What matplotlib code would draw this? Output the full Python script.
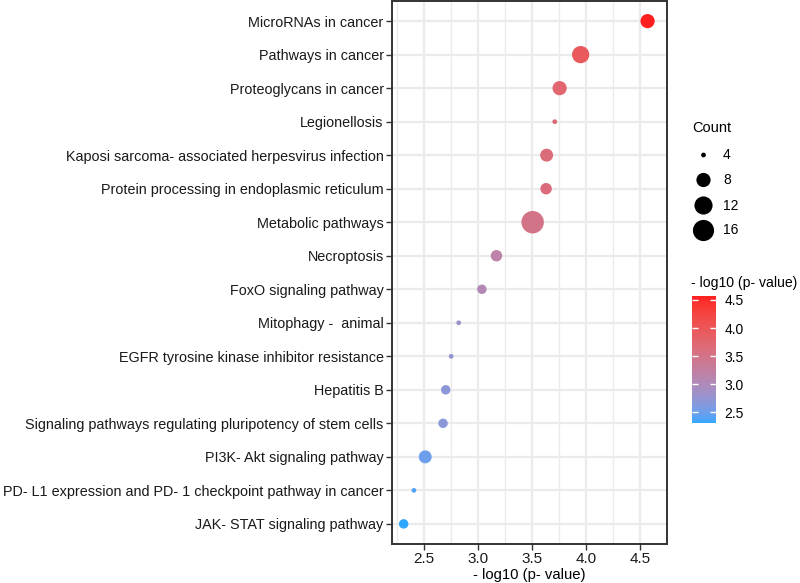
import numpy as np
import matplotlib
matplotlib.use("Agg")
import matplotlib.pyplot as plt
from matplotlib.colors import ListedColormap, Normalize, to_rgb

plt.rcParams['font.family'] = ['Liberation Sans', 'DejaVu Sans']

# ===== Datos =====
pathways = [
    "MicroRNAs in cancer",
    "Pathways in cancer",
    "Proteoglycans in cancer",
    "Legionellosis",
    "Kaposi sarcoma- associated herpesvirus infection",
    "Protein processing in endoplasmic reticulum",
    "Metabolic pathways",
    "Necroptosis",
    "FoxO signaling pathway",
    "Mitophagy -  animal",
    "EGFR tyrosine kinase inhibitor resistance",
    "Hepatitis B",
    "Signaling pathways regulating pluripotency of stem cells",
    "PI3K- Akt signaling pathway",
    "PD- L1 expression and PD- 1 checkpoint pathway in cancer",
    "JAK- STAT signaling pathway",
]
neglog_p = [4.57, 3.95, 3.755, 3.71, 3.635, 3.63, 3.505, 3.17,
            3.035, 2.82, 2.75, 2.70, 2.675, 2.51, 2.405, 2.31]
counts = [8, 11, 8, 4, 7, 6, 18, 6, 5, 4, 4, 5, 5, 7, 4, 5]

size_breaks = [4, 8, 12, 16]
x_ticks = [2.5, 3.0, 3.5, 4.0, 4.5]
cbar_ticks = [2.5, 3.0, 3.5, 4.0, 4.5]

low_col = "#2EA6FF"
high_col = "#FF1F1F"

# ===== Escala de tamaño tipo ggplot (area) =====
cmin, cmax = min(counts), max(counts)


def marker_area(c):
    c = np.asarray(c, dtype=float)
    size = 1 + 5 * np.sqrt((c - cmin) / (cmax - cmin))
    d_px = 3.55 * (size + 0.33)
    return (d_px * 0.72) ** 2


# ===== Degradado en espacio Lab (como ggplot) =====
def srgb_to_lab(rgb):
    rgb = np.asarray(rgb, dtype=float)
    lin = np.where(rgb <= 0.04045, rgb / 12.92, ((rgb + 0.055) / 1.055) ** 2.4)
    M = np.array([[0.4124, 0.3576, 0.1805],
                  [0.2126, 0.7152, 0.0722],
                  [0.0193, 0.1192, 0.9505]])
    xyz = M @ lin / np.array([0.95047, 1.0, 1.08883])
    f = np.where(xyz > 0.008856, np.cbrt(xyz), 7.787 * xyz + 16 / 116)
    return np.array([116 * f[1] - 16, 500 * (f[0] - f[1]), 200 * (f[1] - f[2])])


def lab_to_srgb(lab):
    L, a, b = lab
    fy = (L + 16) / 116
    fx = fy + a / 500
    fz = fy - b / 200
    f = np.array([fx, fy, fz])
    xyz = np.where(f ** 3 > 0.008856, f ** 3, (f - 16 / 116) / 7.787)
    xyz = xyz * np.array([0.95047, 1.0, 1.08883])
    Minv = np.array([[3.2406, -1.5372, -0.4986],
                     [-0.9689, 1.8758, 0.0415],
                     [0.0557, -0.2040, 1.0570]])
    lin = Minv @ xyz
    lin = np.clip(lin, 0, 1)
    rgb = np.where(lin <= 0.0031308, 12.92 * lin, 1.055 * lin ** (1 / 2.4) - 0.055)
    return np.clip(rgb, 0, 1)


lab_lo = srgb_to_lab(to_rgb(low_col))
lab_hi = srgb_to_lab(to_rgb(high_col))
cols = [lab_to_srgb(lab_lo + t * (lab_hi - lab_lo)) for t in np.linspace(0, 1, 256)]
cmap = ListedColormap(cols)
norm = Normalize(vmin=min(neglog_p), vmax=max(neglog_p))

# ===== Figura =====
fig = plt.figure(figsize=(8.0, 5.83), dpi=100)
ax = fig.add_axes([392 / 800, 1 - 544 / 583, 275 / 800, 543 / 583])

ypos = np.arange(len(pathways))[::-1]
sc = ax.scatter(neglog_p, ypos, s=marker_area(counts), c=neglog_p,
                cmap=cmap, norm=norm, linewidths=0, zorder=3)

ax.set_xlim(2.202, 4.68)
ax.set_ylim(-0.6, len(pathways) - 1 + 0.6)
ax.set_yticks(ypos)
ax.set_yticklabels(pathways, fontsize=10.4, color='#1a1a1a')
ax.set_xticks(x_ticks)
ax.set_xticklabels([f"{v:.1f}" for v in x_ticks], fontsize=11, color='#1a1a1a')
ax.set_xticks(np.arange(2.25, 4.76, 0.5), minor=True)
ax.tick_params(axis='both', which='major', length=4, width=1, color='#333333', pad=2)
ax.tick_params(axis='x', which='minor', length=0)
ax.set_xlabel("- log10 (p- value)", fontsize=10.7, labelpad=1)

ax.grid(True, which='major', color='#EBEBEB', linewidth=1.6, zorder=0)
ax.grid(True, which='minor', axis='x', color='#EBEBEB', linewidth=1.0, zorder=0)
ax.set_axisbelow(True)
for sp in ax.spines.values():
    sp.set_color('#333333')
    sp.set_linewidth(1.4)

# ===== Leyenda de tamaño (Count) =====
leg = fig.add_axes([0, 0, 1, 1])
leg.set_xlim(0, 800)
leg.set_ylim(583, 0)
leg.axis('off')
leg.text(692, 128, "Count", fontsize=10.5, va='center', ha='left')
leg_y = [155, 180, 205.5, 230.5]
leg.scatter([703.5] * len(size_breaks), leg_y, s=marker_area(size_breaks),
            color='black', linewidths=0)
for yy, b in zip(leg_y, size_breaks):
    leg.text(723, yy, str(b), fontsize=10, va='center', ha='left')

leg.text(691, 283, "- log10 (p- value)", fontsize=10.1, va='center', ha='left')

# ===== Barra de color =====
cax = fig.add_axes([692 / 800, 1 - 423 / 583, 24 / 800, 127 / 583])
cb = fig.colorbar(sc, cax=cax, ticks=cbar_ticks)
cb.outline.set_visible(False)
cb.ax.set_yticklabels([f"{v:.1f}" for v in cbar_ticks], fontsize=10)
cb.ax.tick_params(direction='in', color='white', length=4, width=1,
                  left=True, right=True, pad=6)

fig.savefig("out.png", dpi=100)
